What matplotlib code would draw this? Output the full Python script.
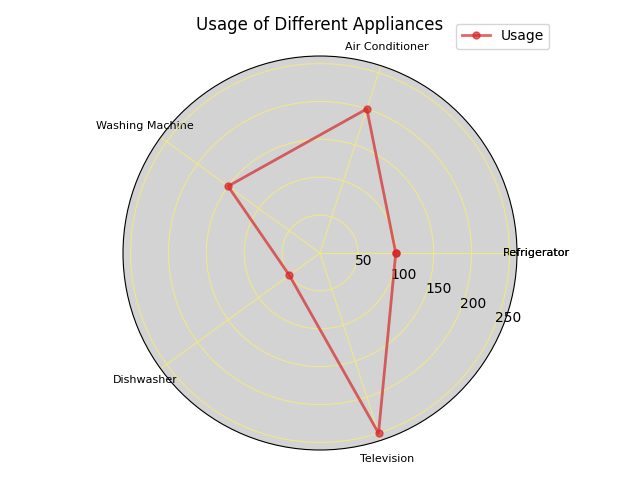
import numpy as np
import matplotlib
matplotlib.use("Agg")
import matplotlib.pyplot as plt

appliances = ["Refrigerator", "Air Conditioner", "Washing Machine", "Dishwasher", "Television"]
usage = [100, 200, 150, 50, 250]

def main():
    n = len(appliances)
    angles = np.linspace(0, 2 * np.pi, n, endpoint=False).tolist()
    values = usage + usage[:1]
    angles += angles[:1]

    fig = plt.figure(figsize=(6.4, 4.8), dpi=100)
    ax = fig.add_axes([0.1922, 0.0625, 0.6156, 0.8208], polar=True)
    ax.set_facecolor("lightgray")
    ax.plot(angles, values, color="tab:red", linewidth=2, marker="o",
            markersize=5, alpha=0.7, label="Usage")
    ax.set_xticks(angles)
    ax.set_xticklabels(appliances + appliances[:1], fontsize=8)
    ax.set_ylim(0, 260)
    ax.set_yticks([50, 100, 150, 200, 250])
    ax.set_rlabel_position(-22.5)
    ax.grid(color="khaki", linewidth=0.8)
    ax.set_title("Usage of Different Appliances", pad=9)
    ax.legend(loc="upper right", bbox_to_anchor=(1.1, 1.1))
    plt.savefig("out.png")
    plt.close()

if __name__ == "__main__":
    main()
